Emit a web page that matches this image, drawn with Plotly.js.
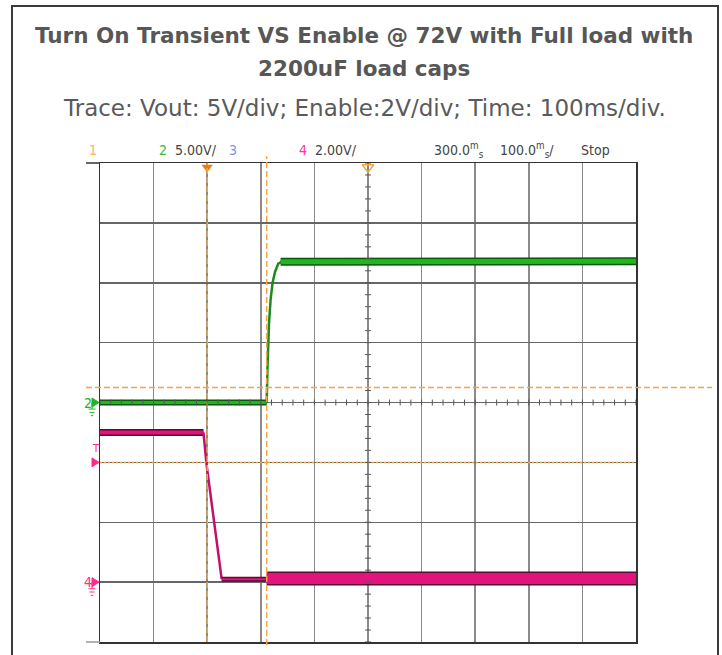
<!DOCTYPE html>
<html>
<head>
<meta charset="utf-8">
<script src="https://cdn.plot.ly/plotly-3.0.1.min.js"></script>
<style>
    html, body { margin: 0; padding: 0; background: #fff; }
    #graph { width: 722px; height: 655px; }
</style>
</head>
<body>
<div id="graph"></div>
<script>
// scope capture, time in ms (100 ms/div), levels in volts
const voutLowTime = [0, 311];
const voutLowVolts = [0, 0];
const voutRiseTime = [311, 311.5, 312.5, 315.3, 318.3, 322, 326.5, 332.6, 338.8];
const voutRiseVolts = [0, 1.5, 3.0, 6.6, 8.6, 10.0, 10.9, 11.6, 11.75];
const voutHighTime = [337, 1000];
const voutHighVolts = [11.75, 11.8];

const enableHighTime = [0, 193];
const enableHighVolts = [5.0, 5.0];
const enableFallTime = [193, 199, 227];
const enableFallVolts = [5.0, 3.9, 0.1];
const enableLowTime = [227, 311];
const enableLowVolts = [0.1, 0.1];
const enableNoisyTime = [311, 1000];
const enableNoisyVolts = [0.12, 0.12];

// channel setup: volts per division and ground offset in divisions
const voutScale = 5, voutOffset = 0;
const enableScale = 2, enableOffset = -3;

const triggerTime = 200;      // ms
const triggerLevel = 4.0;     // V on enable channel
const cursorTime = 311;       // ms
const cursorLevel = 1.25;     // V on vout channel

const headerLabels = ['1', '2', '5.00V/', '3', '4', '2.00V/',
    '300.0<sup>m</sup><sub>s</sub>', '100.0<sup>m</sup><sub>s</sub>/', 'Stop'];
const headerColors = ['#f7b267', '#3cb93c', '#444444', '#7b95e6', '#ff3399', '#444444',
    '#444444', '#444444', '#444444'];

const titleLines = ['Turn On Transient VS Enable @ 72V with Full load with', '2200uF load caps'];
const subTitle = 'Trace: Vout: 5V/div; Enable:2V/div; Time: 100ms/div.';


const toDiv = (volts, scale, offset) => volts.map(v => v / scale + offset);

const GREEN = '#22b522', GREEN_DARK = '#0b5a0b';
const PINK = '#e0147c', PINK_DARK = '#5c0a32';
const ORANGE = '#f5a442';
const NARROW = '"Liberation Sans Narrow", "DejaVu Sans Condensed", sans-serif';

function band(x, y, color, dark, width) {
    return [
        {x, y, mode: 'lines', line: {color: dark, width: width}, hoverinfo: 'none'},
        {x, y, mode: 'lines', line: {color, width: Math.max(1, width - 3)}, hoverinfo: 'none'},
    ];
}

// page pixel -> paper coordinate (grid spans x 100..636, y 163..642)
const X = p => (p - 100) / 536;
const Y = p => (642 - p) / 479;

function drawScope() {
    const traces = [
        ...band(voutLowTime, toDiv(voutLowVolts, voutScale, voutOffset), GREEN, GREEN_DARK, 6),
        {x: voutRiseTime, y: toDiv(voutRiseVolts, voutScale, voutOffset), mode: 'lines',
            line: {color: '#1d8a1d', width: 2.5}, hoverinfo: 'none'},
        ...band(voutHighTime, toDiv(voutHighVolts, voutScale, voutOffset), GREEN, GREEN_DARK, 8),

        ...band(enableHighTime, toDiv(enableHighVolts, enableScale, enableOffset), PINK, PINK_DARK, 7),
        {x: enableFallTime, y: toDiv(enableFallVolts, enableScale, enableOffset), mode: 'lines',
            line: {color: '#c0106a', width: 2.5}, hoverinfo: 'none'},
        ...band(enableLowTime, toDiv(enableLowVolts, enableScale, enableOffset), PINK, PINK_DARK, 5),
        ...band(enableNoisyTime, toDiv(enableNoisyVolts, enableScale, enableOffset), PINK, PINK_DARK, 14),

        // trigger position and center markers at the top edge
        {x: [triggerTime], y: [3.93], mode: 'markers', cliponaxis: false, hoverinfo: 'none',
            marker: {symbol: 'triangle-down', size: 10, color: '#f07c10'}},
        {x: [500], y: [3.93], mode: 'markers', cliponaxis: false, hoverinfo: 'none',
            marker: {symbol: 'triangle-down-open', size: 10, color: ORANGE, line: {width: 1.5}}},
    ];

    const shapes = [];

    // orange cursors
    shapes.push({type: 'line', xref: 'x', yref: 'paper', x0: triggerTime, x1: triggerTime, y0: 0, y1: 1,
        line: {color: ORANGE, width: 1.5, dash: '6px,3px'}});
    shapes.push({type: 'line', xref: 'x', yref: 'paper', x0: cursorTime, x1: cursorTime, y0: Y(645), y1: Y(156),
        line: {color: ORANGE, width: 1.5, dash: '6px,3px'}});
    const cursorDiv = cursorLevel / voutScale + voutOffset;
    shapes.push({type: 'line', xref: 'paper', yref: 'y', x0: X(86), x1: X(712), y0: cursorDiv, y1: cursorDiv,
        line: {color: ORANGE, width: 1.5, dash: '6px,3px'}});
    const trigDiv = triggerLevel / enableScale + enableOffset;
    shapes.push({type: 'line', xref: 'paper', yref: 'y', x0: 0, x1: 1, y0: trigDiv, y1: trigDiv,
        line: {color: ORANGE, width: 1.5, dash: '2px,2px'}});

    // minor ticks on the center cross
    for (let d = -4; d <= 4.001; d += 0.2) {
        shapes.push({type: 'line', xref: 'x', yref: 'y', x0: 494.5, x1: 505.5, y0: d, y1: d,
            line: {color: '#555', width: 1}});
    }
    for (let t = 0; t <= 1000; t += 20) {
        shapes.push({type: 'line', xref: 'x', yref: 'y', x0: t, x1: t, y0: -0.05, y1: 0.05,
            line: {color: '#555', width: 1}});
    }

    // short frame extensions on the left, top and bottom
    shapes.push({type: 'line', xref: 'paper', yref: 'paper', x0: X(86), x1: 0, y0: 1, y1: 1,
        line: {color: '#333', width: 1.5}});
    shapes.push({type: 'line', xref: 'paper', yref: 'paper', x0: X(86), x1: 0, y0: 0, y1: 0,
        line: {color: '#999', width: 1.5}});

    // channel arrows (ground / trigger level) and ground symbols at the left edge
    const arrows = [[voutOffset, GREEN], [enableOffset, '#ff2a8a'], [trigDiv, '#ff2a8a']];
    arrows.forEach(([g, c]) => {
        shapes.push({type: 'path', xref: 'paper', yref: 'y', fillcolor: c, line: {color: c, width: 1},
            path: `M ${X(92)} ${g + 0.075} L ${X(99)} ${g} L ${X(92)} ${g - 0.075} Z`});
    });
    [[voutOffset, GREEN], [enableOffset, '#ff2a8a']].forEach(([g, c]) => {
        const xs = X(92);
        shapes.push({type: 'line', xref: 'paper', yref: 'y', x0: xs, x1: xs, y0: g, y1: g - 0.11,
            line: {color: c, width: 1}});
        [[0.11, 3.5], [0.165, 2.5], [0.22, 1.2]].forEach(([dy, w]) => {
            shapes.push({type: 'line', xref: 'paper', yref: 'y', x0: X(92 - w), x1: X(92 + w),
                y0: g - dy, y1: g - dy, line: {color: c, width: 1}});
        });
    });

    // outer frame of the figure
    shapes.push({type: 'rect', xref: 'paper', yref: 'paper', x0: X(12), x1: X(718),
        y0: Y(680), y1: Y(6), line: {color: '#3a3a3a', width: 2}, fillcolor: 'rgba(0,0,0,0)'});

    const annotations = [];
    const titleY = [36, 68];
    titleLines.forEach((t, i) => annotations.push({
        text: '<b>' + t + '</b>', xref: 'paper', yref: 'paper', x: X(364), y: Y(titleY[i]),
        xanchor: 'center', yanchor: 'middle', showarrow: false,
        font: {family: '"DejaVu Sans", sans-serif', size: 21.5, color: '#575757'},
    }));
    annotations.push({
        text: subTitle, xref: 'paper', yref: 'paper', x: X(364), y: Y(108),
        xanchor: 'center', yanchor: 'middle', showarrow: false,
        font: {family: '"DejaVu Sans", sans-serif', size: 23, color: '#5a5a5a'},
    });

    const headerX = [93, 163, 195.5, 233, 303, 335.5, 458.5, 527, 595.5];
    headerLabels.forEach((t, i) => annotations.push({
        text: t, xref: 'paper', yref: 'paper', x: X(headerX[i]), y: Y(150),
        xanchor: 'center', yanchor: 'middle', showarrow: false,
        font: {family: NARROW, size: 14, color: headerColors[i]},
    }));

    // channel labels at the left edge
    const leftLabels = [['2', voutOffset, GREEN, 88, 14], ['4', enableOffset, '#ff2a8a', 88, 14],
        ['T', trigDiv + 0.24, '#ff2a8a', 96, 11]];
    leftLabels.forEach(([t, y, c, x, s]) => annotations.push({
        text: t, xref: 'paper', yref: 'y', x: X(x), y: y,
        xanchor: 'center', yanchor: 'middle', showarrow: false,
        font: {family: NARROW, size: s, color: c},
    }));

    const axisBase = {
        showticklabels: false,
        ticks: '',
        showgrid: true,
        zeroline: false,
        showline: true,
        mirror: true,
        linecolor: '#333',
        linewidth: 1.5,
        fixedrange: true,
    };

    const layout = {
        width: 722,
        height: 655,
        margin: {l: 100, r: 86, t: 163, b: 13},
        paper_bgcolor: '#fff',
        plot_bgcolor: '#fff',
        showlegend: false,
        xaxis: {...axisBase, range: [0, 1000], dtick: 100, tick0: 0, gridcolor: '#8a8a8a', gridwidth: 1.5},
        yaxis: {...axisBase, range: [-4, 4], dtick: 1, tick0: 0, gridcolor: '#666', gridwidth: 1.5},
        shapes,
        annotations,
    };

    Plotly.newPlot('graph', traces, layout, {displayModeBar: false, staticPlot: true});
}

drawScope();
</script>
</body>
</html>
